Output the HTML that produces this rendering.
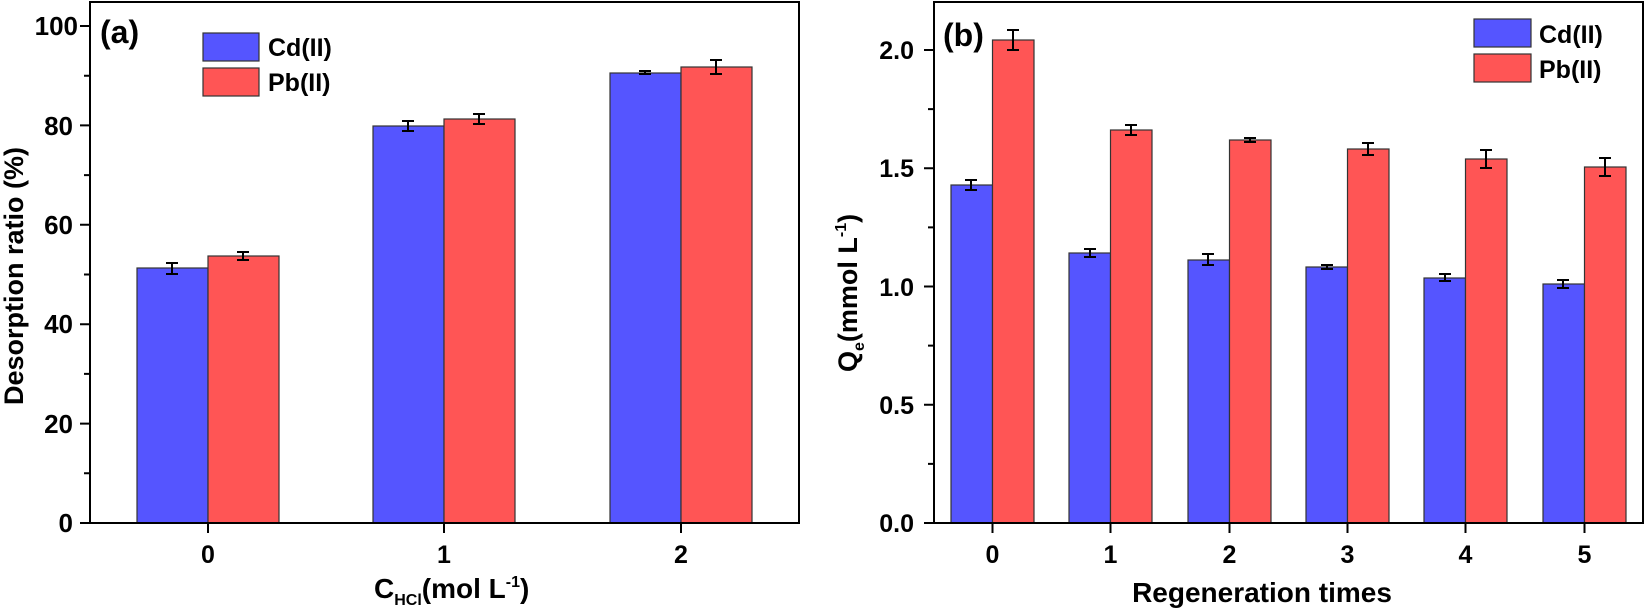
<!DOCTYPE html>
<html><head><meta charset="utf-8"><style>
html,body{margin:0;padding:0;background:#fff;}
svg{display:block;}
text{font-family:"Liberation Sans",Arial,sans-serif;font-weight:bold;fill:#000;}
</style></head><body>
<svg width="1645" height="612" viewBox="0 0 1645 612" xmlns="http://www.w3.org/2000/svg">
<g stroke="#333" stroke-width="1.2">
<rect x="137" y="268" width="71" height="255" fill="#5555ff"/>
<rect x="208" y="256" width="71" height="267" fill="#ff5555"/>
<rect x="373" y="126" width="71" height="397" fill="#5555ff"/>
<rect x="444" y="119" width="71" height="404" fill="#ff5555"/>
<rect x="610" y="73" width="71" height="450" fill="#5555ff"/>
<rect x="681" y="67" width="71" height="456" fill="#ff5555"/>
<rect x="951" y="185" width="41.5" height="338" fill="#5555ff"/>
<rect x="992.5" y="40" width="41.5" height="483" fill="#ff5555"/>
<rect x="1069" y="253" width="41.5" height="270" fill="#5555ff"/>
<rect x="1110.5" y="130" width="41.5" height="393" fill="#ff5555"/>
<rect x="1188" y="260" width="41.5" height="263" fill="#5555ff"/>
<rect x="1229.5" y="140" width="41.5" height="383" fill="#ff5555"/>
<rect x="1306" y="267" width="41.5" height="256" fill="#5555ff"/>
<rect x="1347.5" y="149" width="41.5" height="374" fill="#ff5555"/>
<rect x="1424" y="278" width="41.5" height="245" fill="#5555ff"/>
<rect x="1465.5" y="159" width="41.5" height="364" fill="#ff5555"/>
<rect x="1543" y="284" width="41.5" height="239" fill="#5555ff"/>
<rect x="1584.5" y="167" width="41.5" height="356" fill="#ff5555"/>
<rect x="203" y="33" width="56" height="28" fill="#5555ff"/>
<rect x="203" y="68" width="56" height="28" fill="#ff5555"/>
<rect x="1474" y="19" width="57" height="28" fill="#5555ff"/>
<rect x="1474" y="54" width="57" height="28" fill="#ff5555"/>
</g>
<g stroke="#000" stroke-width="2" fill="none">
<path d="M172,263 v11 M166,263 h12 M166,274 h12"/>
<path d="M243,252 v8 M237,252 h12 M237,260 h12"/>
<path d="M408,121 v10 M402,121 h12 M402,131 h12"/>
<path d="M479,114 v10 M473,114 h12 M473,124 h12"/>
<path d="M645,71 v3 M639,71 h12 M639,74 h12"/>
<path d="M716,60 v14 M710,60 h12 M710,74 h12"/>
<path d="M971,180 v10 M965,180 h12 M965,190 h12"/>
<path d="M1013,30 v20 M1007,30 h12 M1007,50 h12"/>
<path d="M1090,249 v8 M1084,249 h12 M1084,257 h12"/>
<path d="M1131,125 v10 M1125,125 h12 M1125,135 h12"/>
<path d="M1208,254 v11 M1202,254 h12 M1202,265 h12"/>
<path d="M1250,138 v4 M1244,138 h12 M1244,142 h12"/>
<path d="M1327,265 v4 M1321,265 h12 M1321,269 h12"/>
<path d="M1368,143 v12 M1362,143 h12 M1362,155 h12"/>
<path d="M1445,274 v7 M1439,274 h12 M1439,281 h12"/>
<path d="M1486,150 v18 M1480,150 h12 M1480,168 h12"/>
<path d="M1563,280 v8 M1557,280 h12 M1557,288 h12"/>
<path d="M1605,158 v18 M1599,158 h12 M1599,176 h12"/>
</g>
<g stroke="#000" stroke-width="2" fill="none">
<rect x="90" y="2" width="709" height="521"/>
<rect x="934" y="2" width="709" height="521"/>
<path d="M80,523h10 M80,423.6h10 M80,324.2h10 M80,224.8h10 M80,125.4h10 M80,26h10 M84,473.3h6 M84,373.9h6 M84,274.5h6 M84,175.1h6 M84,75.7h6"/>
<path d="M208,523v10 M444,523v10 M681,523v10"/>
<path d="M924,523h10 M924,404.75h10 M924,286.5h10 M924,168.25h10 M924,50h10 M928,463.9h6 M928,345.6h6 M928,227.4h6 M928,109.1h6"/>
<path d="M992.5,523v10 M1110.5,523v10 M1229.5,523v10 M1347.5,523v10 M1465.5,523v10 M1584.5,523v10"/>
</g>
<g font-size="26" text-anchor="end">
<text x="73" y="532">0</text><text x="73" y="433">20</text><text x="73" y="333">40</text>
<text x="73" y="234">60</text><text x="73" y="135">80</text><text x="78" y="35">100</text>
</g>
<g font-size="25" text-anchor="middle">
<text x="208" y="563">0</text><text x="444" y="563">1</text><text x="681" y="563">2</text>
</g>
<g font-size="25" text-anchor="end">
<text x="914" y="532">0.0</text><text x="914" y="414">0.5</text><text x="914" y="296">1.0</text>
<text x="914" y="177">1.5</text><text x="914" y="59">2.0</text>
</g>
<g font-size="25" text-anchor="middle">
<text x="992.5" y="563">0</text><text x="1110.5" y="563">1</text><text x="1229.5" y="563">2</text>
<text x="1347.5" y="563">3</text><text x="1465.5" y="563">4</text><text x="1584.5" y="563">5</text>
</g>
<text x="100" y="43" font-size="32">(a)</text>
<text x="943" y="46" font-size="32">(b)</text>
<g font-size="25">
<text x="268" y="56">Cd(II)</text><text x="268" y="91">Pb(II)</text>
<text x="1539" y="43">Cd(II)</text><text x="1539" y="78">Pb(II)</text>
</g>
<text x="374" y="598" font-size="28">C<tspan font-size="16" dy="7">HCl</tspan><tspan dy="-7">(mol L</tspan><tspan font-size="16" dy="-11">-1</tspan><tspan dy="11">)</tspan></text>
<text x="1262" y="602" font-size="28" text-anchor="middle">Regeneration times</text>
<text transform="translate(23,276) rotate(-90)" font-size="27" text-anchor="middle">Desorption ratio (%)</text>
<text transform="translate(857,372) rotate(-90)" font-size="27">Q<tspan font-size="16" dy="7">e</tspan><tspan dy="-7">(mmol L</tspan><tspan font-size="16" dy="-11">-1</tspan><tspan dy="11">)</tspan></text>
</svg>
</body></html>
